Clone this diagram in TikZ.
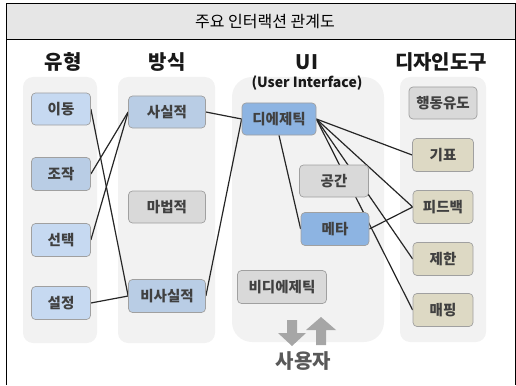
\documentclass[tikz,border=0pt]{standalone}
\usepackage{fontspec}
\setmainfont{Noto Sans CJK KR}
\pgfdeclarelayer{back}
\pgfdeclarelayer{lines}
\pgfsetlayers{back,lines,main}
\definecolor{colbg}{HTML}{F2F2F2}
\definecolor{titlebg}{HTML}{E6E6E6}
\definecolor{lblue}{HTML}{C6D9F1}
\definecolor{mblue}{HTML}{B9CDE5}
\definecolor{dblue}{HTML}{8DB4E2}
\definecolor{lgray}{HTML}{D9D9D9}
\definecolor{tan}{HTML}{DDD9C4}
\definecolor{bord}{HTML}{A0A0A0}
\definecolor{txt}{HTML}{404040}
\definecolor{linec}{HTML}{262626}
\definecolor{arrowc}{HTML}{A6A6A6}
\definecolor{usertxt}{HTML}{595959}
\tikzset{
  colrect/.style={fill=colbg, draw=none, rounded corners=10pt},
  box/.style={draw=bord, line width=0.7pt, rounded corners=4pt, inner sep=0pt,
    font=\fontsize{14.5}{16}\selectfont\bfseries, text=txt},
  head/.style={font=\fontsize{20}{23}\selectfont\bfseries, text=black!90},
  conn/.style={draw=linec, line width=1.2pt},
  blockarrow/.style={fill=arrowc, draw=none}
}
\begin{document}
\begin{tikzpicture}[x=1pt,y=-1pt]
\useasboundingbox (0,0) rectangle (516,385);
% frame and title bar
\fill[titlebg] (6.5,3.5) rectangle (515.5,40);
\draw[line width=1.2pt] (6.5,385) -- (6.5,3.5) -- (515.5,3.5) -- (515.5,385);
\draw[line width=1pt] (6.5,40) -- (515.5,40);
\node[font=\fontsize{16}{19}\selectfont] (title) at (265,22) {주요 인터랙션 관계도};
% headers
\node[head] (h1) at (63,62) {유형};
\node[head] (h2) at (167,62) {방식};
\node[head] (h3) at (307,62) {UI};
\node[font=\fontsize{14}{16}\selectfont\bfseries, text=black!90] (h3b) at (307,83) {(User Interface)};
\node[head] (h4) at (441,62) {디자인도구};
% column backgrounds
\begin{pgfonlayer}{back}
\fill[colrect] (23,77) rectangle (97,343);
\fill[colrect] (118,77) rectangle (215,343);
\fill[colrect, rounded corners=20pt] (232,77) rectangle (384,342);
\fill[colrect] (400,77) rectangle (486,342);
\end{pgfonlayer}
% column 1
\node[box, fill=lblue, minimum width=59pt, minimum height=32pt] (ido) at (61,109) {이동};
\node[box, fill=mblue, minimum width=59pt, minimum height=33pt] (jojak) at (61,174) {조작};
\node[box, fill=lblue, minimum width=59pt, minimum height=33pt] (seontaek) at (61,240) {선택};
\node[box, fill=lblue, minimum width=59pt, minimum height=33pt] (seoljeong) at (61,303) {설정};
% column 2
\node[box, fill=mblue, minimum width=77pt, minimum height=32pt] (sasil) at (167,112) {사실적};
\node[box, fill=lgray, minimum width=77pt, minimum height=32pt] (mabeop) at (167,207) {마법적};
\node[box, fill=mblue, minimum width=77pt, minimum height=33pt] (bisasil) at (167,296) {비사실적};
% column 3
\node[box, fill=dblue, minimum width=74pt, minimum height=32pt] (dieg) at (279,119) {디에제틱};
\node[box, fill=lgray, minimum width=69pt, minimum height=32pt] (space) at (334,181) {공간};
\node[box, fill=dblue, minimum width=68pt, minimum height=33pt] (meta) at (335,229) {메타};
\node[box, fill=lgray, minimum width=89pt, minimum height=33pt] (nondieg) at (282,287) {비디에제틱};
% column 4
\node[box, fill=lgray, minimum width=68pt, minimum height=32pt] (afford) at (443,103) {행동유도};
\node[box, fill=tan, minimum width=61pt, minimum height=33pt] (signif) at (443,155) {기표};
\node[box, fill=tan, minimum width=60pt, minimum height=33pt] (feedback) at (443,207) {피드백};
\node[box, fill=tan, minimum width=60pt, minimum height=33pt] (constr) at (443,259) {제한};
\node[box, fill=tan, minimum width=60pt, minimum height=33pt] (mapping) at (443,310) {매핑};
% connectors
\begin{pgfonlayer}{lines}
\draw[conn] (ido.east) -- (bisasil.west);
\draw[conn] (jojak.east) -- (sasil.west);
\draw[conn] (seontaek.east) -- (sasil.west);
\draw[conn] (seoljeong.east) -- (bisasil.west);
\draw[conn] (sasil.east) -- (dieg.west);
\draw[conn] (bisasil.east) -- (dieg.west);
\draw[conn] (dieg.south) -- (meta.west);
\draw[conn] (dieg.east) -- (signif.west);
\draw[conn] (dieg.east) -- (feedback.west);
\draw[conn] (dieg.east) -- (constr.west);
\draw[conn] (dieg.east) -- (mapping.west);
\draw[conn] (meta.east) -- (feedback.west);
\end{pgfonlayer}
% user arrows
\fill[blockarrow] (287,320) -- (297,320) -- (297,333) -- (306,333) -- (292,346) -- (278,333) -- (287,333) -- cycle;
\fill[blockarrow] (316,345) -- (326,345) -- (326,330) -- (336,330) -- (321,317) -- (306,330) -- (316,330) -- cycle;
\node[font=\fontsize{20}{23}\selectfont\bfseries, text=usertxt] (user) at (303.5,361) {사용자};
\end{tikzpicture}
\end{document}
